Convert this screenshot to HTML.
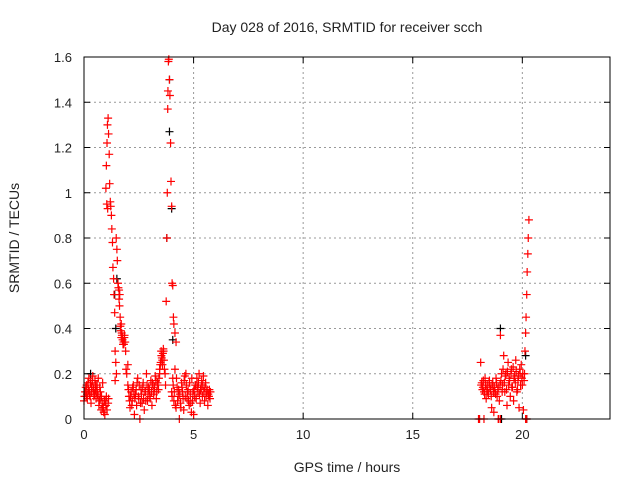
<!DOCTYPE html>
<html><head><meta charset="utf-8"><style>
body{margin:0;background:#fff}
svg text{font-family:"Liberation Sans",sans-serif;fill:#222}
</style></head><body>
<svg id="c" width="640" height="480">
<text x="347" y="32" font-size="14" text-anchor="middle">Day 028 of 2016, SRMTID for receiver scch</text>
<text x="347" y="472" font-size="14" text-anchor="middle">GPS time / hours</text>
<text transform="translate(19,238) rotate(-90)" font-size="14" text-anchor="middle">SRMTID / TECUs</text>
<g id="grid"></g>
<g id="ticks"></g>
<g id="marks"></g>
<rect x="84" y="57" width="526" height="362" fill="none" stroke="#000" stroke-width="1"/>
</svg>
<script>
const xTicks=[0,5,10,15,20];
const yTicks=[0,0.2,0.4,0.6,0.8,1,1.2,1.4,1.6];
const yTickLabels=["0","0.2","0.4","0.6","0.8","1","1.2","1.4","1.6"];
const redT=[0.0,0.05,0.1,0.12,0.15,0.2,0.22,0.25,0.3,0.32,0.35,0.4,0.42,0.45,0.5,0.52,0.55,0.6,0.62,0.65,0.7,0.72,0.75,0.8,0.85,
0.85,0.9,0.92,0.95,1.0,1.02,1.05,1.1,1.12,
1.0,1.02,1.05,1.07,1.1,1.12,1.15,1.17,1.2,1.22,1.25,1.27,1.3,1.32,1.35,1.37,1.4,1.42,1.45,1.47,1.5,1.52,1.55,1.57,1.6,1.62,1.65,1.7,1.72,1.75,1.8,1.82,1.85,1.9,1.92,1.95,2.0,1.42,1.48,
2.0,2.05,2.1,2.15,2.2,2.25,2.3,2.35,2.4,2.45,2.5,2.55,2.6,2.65,2.7,2.75,2.8,2.85,2.9,2.95,3.0,3.05,3.1,3.15,3.2,3.25,3.3,3.35,3.4,3.45,
3.45,3.5,3.52,3.55,3.58,3.6,3.62,3.65,3.7,3.72,
3.75,3.78,3.8,3.82,3.83,3.85,3.87,3.9,3.92,3.95,3.97,4.0,4.02,4.05,4.08,4.1,4.15,4.2,
4.0,4.05,4.1,4.15,4.2,4.25,4.3,4.35,4.4,4.45,4.5,4.55,4.6,4.65,4.7,4.75,4.8,4.85,4.9,4.95,5.0,5.05,5.1,5.15,5.2,5.25,5.3,5.35,5.4,5.45,5.5,5.55,5.6,5.65,5.7,5.75,
18.0,18.1,18.15,18.2,18.25,18.3,18.35,18.4,18.45,18.5,18.55,18.6,18.65,18.7,18.75,18.8,18.85,18.9,18.95,19.0,19.05,19.1,19.15,19.2,19.25,19.3,19.35,19.4,19.45,19.5,19.55,19.6,19.65,19.7,19.75,19.8,19.85,19.9,19.95,20.0,
20.05,20.1,20.12,20.15,20.17,20.2,20.22,20.25,20.27,20.3,
18.05,18.25,18.9,18.92,19.0,20.15,20.2,
0.02,0.08,0.14,0.18,0.24,0.28,0.34,0.38,0.44,0.48,0.54,0.58,0.64,0.68,0.74,0.78,0.83,0.88,0.96,1.04,1.08,
1.6,1.63,1.66,1.68,1.7,1.73,1.76,1.78,1.84,1.88,
2.03,2.08,2.12,2.18,2.22,2.28,2.32,2.38,2.42,2.48,2.52,2.58,2.62,2.68,2.72,2.78,2.82,2.88,2.92,2.98,3.02,3.08,3.12,3.18,3.22,3.28,3.32,3.38,3.42,3.48,3.53,3.57,3.63,3.67,
4.02,4.07,4.12,4.17,4.22,4.27,4.32,4.37,4.42,4.47,4.52,4.57,4.62,4.67,4.72,4.77,4.82,4.87,4.92,4.97,5.02,5.07,5.12,5.17,5.22,5.27,5.32,5.37,5.42,5.47,5.52,5.57,5.62,5.67,5.72,5.77,
18.12,18.18,18.22,18.28,18.32,18.38,18.42,18.48,18.52,18.58,18.62,18.68,18.72,18.78,18.82,18.88,18.98,19.02,19.08,19.12,19.18,19.22,19.28,19.32,19.38,19.42,19.48,19.52,19.58,19.62,19.68,19.72,19.78,19.82,19.88,19.92,19.98,20.02,20.08];
const redV=[0.08,0.12,0.10,0.15,0.09,0.13,0.18,0.11,0.16,0.07,0.12,0.19,0.14,0.10,0.17,0.13,0.09,0.15,0.11,0.18,0.08,0.14,0.12,0.10,0.16,
0.05,0.03,0.08,0.02,0.06,0.1,0.04,0.07,0.09,
1.02,1.12,1.22,1.30,1.33,1.26,1.17,1.04,0.96,0.94,0.9,0.84,0.78,0.67,0.62,0.55,0.47,0.3,0.25,0.8,0.75,0.7,0.6,0.58,0.53,0.5,0.45,0.42,0.38,0.36,0.34,0.33,0.37,0.3,0.22,0.2,0.15,0.17,0.2,
0.24,0.1,0.05,0.12,0.08,0.15,0.02,0.11,0.06,0.18,0.09,0.0,0.13,0.07,0.16,0.04,0.12,0.2,0.08,0.14,0.1,0.17,0.06,0.15,0.12,0.19,0.09,0.16,0.13,0.2,
0.22,0.25,0.3,0.27,0.24,0.29,0.31,0.26,0.2,0.15,
0.52,0.8,1.0,1.37,1.45,1.58,1.59,1.5,1.43,1.22,1.05,0.94,0.6,0.59,0.45,0.42,0.38,0.34,
0.12,0.18,0.08,0.22,0.05,0.14,0.1,0.0,0.07,0.16,0.12,0.04,0.19,0.2,0.09,0.13,0.06,0.11,0.03,0.08,0.02,0.1,0.15,0.18,0.12,0.2,0.07,0.14,0.1,0.19,0.08,0.16,0.12,0.06,0.1,0.09,
0.0,0.25,0.16,0.14,0.12,0.18,0.09,0.15,0.11,0.17,0.13,0.05,0.16,0.03,0.12,0.18,0.1,0.14,0.08,0.37,0.2,0.15,0.28,0.12,0.2,0.06,0.25,0.18,0.1,0.22,0.14,0.08,0.19,0.26,0.12,0.17,0.05,0.2,0.24,0.15,
0.04,0.2,0.3,0.38,0.45,0.55,0.65,0.73,0.8,0.88,
0,0,0,0,0,0,0,
0.1,0.14,0.11,0.16,0.12,0.1,0.14,0.17,0.13,0.11,0.15,0.12,0.1,0.06,0.09,0.04,0.07,0.05,0.08,0.95,0.93,
0.57,0.55,0.41,0.39,0.36,0.37,0.35,0.33,0.36,0.34,
0.13,0.08,0.1,0.06,0.14,0.11,0.09,0.13,0.16,0.1,0.15,0.07,0.11,0.14,0.09,0.12,0.08,0.15,0.11,0.13,0.09,0.12,0.16,0.11,0.14,0.17,0.12,0.15,0.18,0.24,0.28,0.26,0.3,0.22,
0.1,0.15,0.12,0.06,0.18,0.08,0.13,0.11,0.05,0.14,0.09,0.17,0.1,0.15,0.12,0.08,0.16,0.07,0.18,0.12,0.13,0.15,0.09,0.14,0.16,0.11,0.13,0.17,0.15,0.12,0.14,0.1,0.13,0.11,0.13,0.12,
0.15,0.13,0.17,0.11,0.15,0.13,0.12,0.16,0.14,0.1,0.15,0.12,0.14,0.11,0.16,0.13,0.15,0.17,0.12,0.22,0.16,0.19,0.13,0.21,0.15,0.17,0.2,0.14,0.23,0.18,0.16,0.21,0.13,0.19,0.22,0.15,0.18,0.2,0.17];
const blackT=[0.3,1.4,1.45,1.5,3.78,3.9,3.9,4.0,4.05,19.0,19.05,20.15,20.2];
const blackV=[0.2,0.55,0.4,0.62,0.8,1.5,1.27,0.93,0.35,0.4,0.0,0.28,0.0];
const X0=84,X1=610,Y0=419,Y1=57;
function xs(t){return X0+(t/24)*(X1-X0);}
function ys(v){return Y0-(v/1.6)*(Y0-Y1);}
const NS="http://www.w3.org/2000/svg";
const grid=document.getElementById('grid'),ticks=document.getElementById('ticks'),marks=document.getElementById('marks');
function mk(tag,at,parent){const e=document.createElementNS(NS,tag);for(const k in at)e.setAttribute(k,at[k]);parent.appendChild(e);return e;}
xTicks.forEach(t=>{
 const x=xs(t);
 if(t>0){const g=mk('line',{x1:x,x2:x,y1:Y1,y2:Y0,stroke:'#999','stroke-dasharray':'2,3'},grid);
 
 }
 mk('line',{x1:x,x2:x,y1:Y0,y2:Y0-6,stroke:'#000'},ticks);
 mk('line',{x1:x,x2:x,y1:Y1,y2:Y1+6,stroke:'#000'},ticks);
 const l=mk('text',{x:x,y:Y0+20,'font-size':13,'text-anchor':'middle'},ticks);l.textContent=t;
 
 
});
yTicks.forEach((v,i)=>{
 const y=ys(v);
 if(v>0&&v<1.6){const g=mk('line',{x1:X0,x2:X1,y1:y,y2:y,stroke:'#999','stroke-dasharray':'2,3'},grid);
 
 }
 mk('line',{x1:X0,x2:X0+6,y1:y,y2:y,stroke:'#000'},ticks);
 mk('line',{x1:X1,x2:X1-6,y1:y,y2:y,stroke:'#000'},ticks);
 const l=mk('text',{x:X0-12,y:y+5,'font-size':13,'text-anchor':'end'},ticks);l.textContent=yTickLabels[i];
 
 
});
function plus(t,v,col,name){
 const x=xs(t),y=ys(v);
 const p=mk('path',{d:`M${x-4},${y}h8M${x},${y-4}v8`,stroke:col,'stroke-width':1.2,fill:'none'},marks);
 
 
}
blackT.forEach((t,i)=>plus(t,blackV[i],'#000','black-point'));
redT.forEach((t,i)=>plus(t,redV[i],'#f00','red-point'));
</script>
</body></html>
